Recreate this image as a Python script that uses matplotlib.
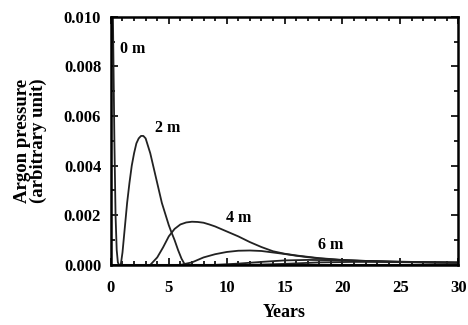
import numpy as np
import matplotlib.pyplot as plt
from matplotlib.ticker import MultipleLocator

plt.rcParams['font.family'] = ['Liberation Serif', 'DejaVu Serif']
plt.rcParams['font.weight'] = 'bold'

# values (years, argon pressure)
years_0m = [0.0, 0.05, 0.12, 0.2, 0.3, 0.4, 0.5, 0.6, 0.7, 30.0]
vals_0m = [0.0, 0.012, 0.012, 0.009, 0.005, 0.002, 0.0006, 0.0001, 0.0, 0.0]

years_2m = [0.85, 1.0, 1.2, 1.4, 1.6, 1.8, 2.0, 2.2, 2.4, 2.6, 2.8, 3.0, 3.2, 3.4,
            3.6, 3.8, 4.0, 4.2, 4.4, 4.6, 4.8, 5.0, 5.2, 5.5, 5.8, 6.1, 6.4, 30.0]
vals_2m = [0.0, 0.0005, 0.0015, 0.0025, 0.0033, 0.0040, 0.0045, 0.0049, 0.0051, 0.0052,
           0.0052, 0.0051, 0.0048, 0.0045, 0.0041, 0.0037, 0.0033, 0.0029, 0.0025,
           0.0022, 0.0019, 0.0016, 0.00135, 0.0010, 0.0006, 0.00025, 0.0, 0.0]

years_4m = [3.4, 4.0, 4.5, 5.0, 5.5, 6.0, 6.5, 7.0, 7.5, 8.0, 8.5, 9.0, 10.0, 11.0,
            12.0, 13.0, 14.0, 15.0, 16.0, 18.0, 20.0, 22.0, 25.0, 28.0, 30.0]
vals_4m = [0.0, 0.0003, 0.0007, 0.00115, 0.00145, 0.00163, 0.00171, 0.00174, 0.00173,
           0.0017, 0.00163, 0.00155, 0.00135, 0.00115, 0.00092, 0.00072, 0.00055,
           0.00045, 0.00038, 0.00027, 0.0002, 0.00016, 0.00012, 0.0001, 0.00009]

years_6m = [6.0, 7.0, 8.0, 9.0, 10.0, 11.0, 12.0, 13.0, 14.0, 15.0, 16.0, 17.0, 18.0,
            20.0, 22.0, 25.0, 28.0, 30.0]
vals_6m = [0.0, 0.0001, 0.0003, 0.00043, 0.00052, 0.00057, 0.00058, 0.00056, 0.0005,
           0.00044, 0.00037, 0.00031, 0.00026, 0.00019, 0.00015, 0.00011, 0.00009, 0.00008]

years_8m = [9.0, 11.0, 13.0, 15.0, 17.0, 19.0, 21.0, 24.0, 27.0, 30.0]
vals_8m = [0.0, 0.00005, 0.00012, 0.00018, 0.0002, 0.00019, 0.00017, 0.00014, 0.00011, 0.00009]

years_10m = [12.0, 15.0, 18.0, 21.0, 24.0, 27.0, 30.0]
vals_10m = [0.0, 0.00004, 0.0001, 0.00012, 0.00012, 0.00011, 0.0001]

fig = plt.figure(figsize=(4.68, 3.25), dpi=100)
ax = fig.add_axes([0.237, 0.185, 0.742, 0.763])

for xs, ys in [(years_0m, vals_0m), (years_2m, vals_2m), (years_4m, vals_4m),
               (years_6m, vals_6m), (years_8m, vals_8m), (years_10m, vals_10m)]:
    ax.plot(xs, ys, color='#222222', lw=1.3)

ax.text(0.8, 0.0087, '0 m', fontsize=11.5, fontweight='bold', va='center')
ax.text(3.8, 0.0055, '2 m', fontsize=11.5, fontweight='bold', va='center')
ax.text(9.9, 0.0019, '4 m', fontsize=11.5, fontweight='bold', va='center')
ax.text(17.9, 0.0008, '6 m', fontsize=11.5, fontweight='bold', va='center')

ax.set_xlim(0, 30)
ax.set_ylim(0, 0.010)
ax.xaxis.set_major_locator(MultipleLocator(5))
ax.xaxis.set_minor_locator(MultipleLocator(1))
ax.yaxis.set_major_locator(MultipleLocator(0.002))
ax.yaxis.set_minor_locator(MultipleLocator(0.001))
ax.yaxis.set_major_formatter(plt.FormatStrFormatter('%.3f'))
ax.tick_params(which='both', direction='in', top=True, right=True, labelsize=12, width=1.2)
ax.tick_params(which='major', length=5)
ax.tick_params(which='minor', length=3)
ax.tick_params(axis='x', which='major', pad=11)
ax.tick_params(axis='y', which='major', pad=7)
for s in ax.spines.values():
    s.set_linewidth(1.8)

ax.set_xlabel('Years', fontsize=13, fontweight='bold', labelpad=6)
ax.set_ylabel('Argon pressure\n(arbitrary unit)', fontsize=13.5, fontweight='bold',
              labelpad=12, linespacing=0.95)

fig.savefig('out.png', dpi=100)
